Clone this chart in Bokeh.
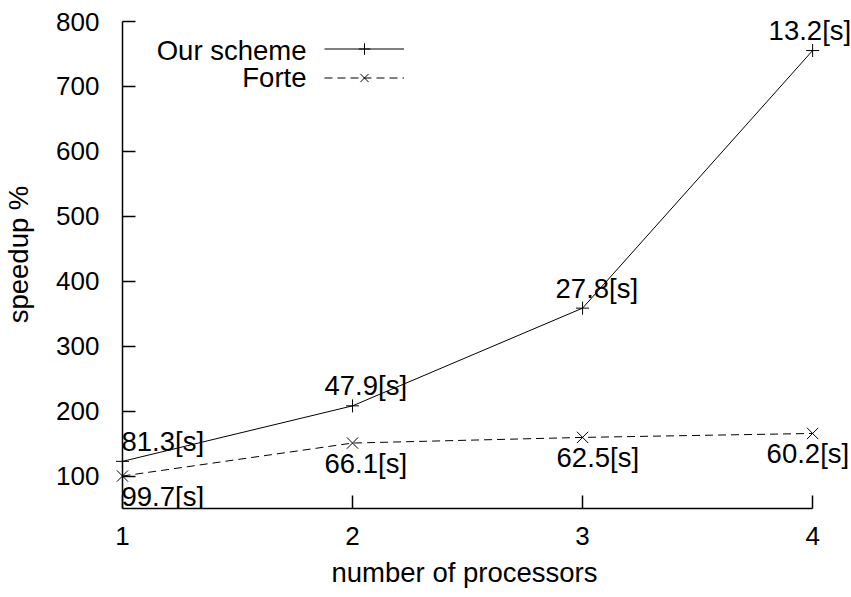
from bokeh.plotting import figure
from bokeh.models import Range1d, FixedTicker, Label, Legend, LegendItem, LinearAxis, Title
from bokeh.embed import file_html
from bokeh.resources import INLINE

# data
processors = [1, 2, 3, 4]
ours_speedup = [122.6, 208.1, 358.6, 755.3]
forte_speedup = [100.0, 150.8, 159.5, 165.6]
ours_times = ["81.3[s]", "47.9[s]", "27.8[s]", "13.2[s]"]
forte_times = ["99.7[s]", "66.1[s]", "62.5[s]", "60.2[s]"]
x_ticks = [1, 2, 3, 4]
y_ticks = [100, 200, 300, 400, 500, 600, 700, 800]
x_bounds = (1, 4)
y_bounds = (50, 800)

FONT = "Liberation Sans"
TICK_FS = "26px"
FS = "27.5px"

p = figure(width=851, height=597, output_backend="svg", toolbar_location=None,
           x_range=Range1d(0.9393, 4.169), y_range=Range1d(50, 832.4),
           min_border_left=106, min_border_right=0, min_border_top=0, min_border_bottom=89)
p.outline_line_color = None
p.grid.visible = False
p.background_fill_color = "white"
p.border_fill_color = "white"

def style(ax):
    ax.major_tick_in = 13
    ax.major_tick_out = 0
    ax.minor_tick_line_color = None
    ax.axis_line_width = 1.5
    ax.major_tick_line_width = 1.5
    ax.axis_line_color = "black"
    ax.major_tick_line_color = "black"
    ax.major_label_text_font = FONT
    ax.major_label_text_font_size = TICK_FS
    ax.major_label_text_color = "black"
    ax.axis_label_text_font = FONT
    ax.axis_label_text_font_size = FS
    ax.axis_label_text_font_style = "normal"
    ax.axis_label_text_color = "black"

style(p.xaxis[0])
style(p.yaxis[0])

p.xaxis.ticker = FixedTicker(ticks=x_ticks)
p.xaxis.bounds = x_bounds
p.xaxis.major_label_standoff = 18

# x axis title, centred under the axis span (not the wider frame)
p.add_layout(Title(text="number of processors", align="left", offset=223, standoff=15,
                   text_font=FONT, text_font_size=FS, text_font_style="normal",
                   text_color="black"), "below")

# y axis line + inward ticks drawn at x = 1
yline = p.yaxis[0]
yline.ticker = FixedTicker(ticks=y_ticks)
yline.bounds = y_bounds
yline.fixed_location = x_bounds[0]
yline.major_label_overrides = {t: "" for t in y_ticks}
yline.major_label_standoff = 0

# y tick labels + title (no line) at the frame's left edge
ylab = LinearAxis(ticker=FixedTicker(ticks=y_ticks), axis_label="speedup %")
style(ylab)
ylab.axis_line_color = None
ylab.major_tick_line_color = None
ylab.major_tick_in = 0
ylab.major_label_standoff = 9
ylab.axis_label_standoff = 19
p.add_layout(ylab, "left")

l1 = p.line(processors, ours_speedup, line_color="black", line_width=1)
m1 = p.scatter(processors, ours_speedup, marker="cross", size=13, line_color="black", line_width=1)
l2 = p.line(processors, forte_speedup, line_color="black", line_width=1, line_dash="8 5")
m2 = p.scatter(processors, forte_speedup, marker="x", size=16, line_color="black", line_width=1)

# point labels (pixel offsets)
ours_dx = [-1, -28, -27, -44]
forte_dx = [-1, -28, -26, -46]
for i in range(len(processors)):
    p.add_layout(Label(x=processors[i], y=ours_speedup[i], text=ours_times[i],
                       x_offset=ours_dx[i], y_offset=20, text_align="left", text_baseline="middle",
                       text_font=FONT, text_font_size=FS, text_color="black"))
    p.add_layout(Label(x=processors[i], y=forte_speedup[i], text=forte_times[i],
                       x_offset=forte_dx[i], y_offset=-20, text_align="left", text_baseline="middle",
                       text_font=FONT, text_font_size=FS, text_color="black"))

legend = Legend(items=[LegendItem(label=" ", renderers=[l1, m1]),
                       LegendItem(label=" ", renderers=[l2, m2])],
                location=(216, 416), glyph_width=80, glyph_height=29, label_height=29,
                spacing=0, padding=0, margin=0, label_standoff=0,
                border_line_color=None, background_fill_alpha=0,
                label_text_font_size="1px")
p.add_layout(legend)

p.add_layout(Label(x=198, y=458, x_units="screen", y_units="screen", text="Our scheme",
                   text_align="right", text_baseline="middle", text_font=FONT, text_font_size=FS,
                   text_color="black"))
p.add_layout(Label(x=198, y=431, x_units="screen", y_units="screen", text="Forte",
                   text_align="right", text_baseline="middle", text_font=FONT, text_font_size=FS,
                   text_color="black"))

open("out.html", "w").write(file_html(p, INLINE))
